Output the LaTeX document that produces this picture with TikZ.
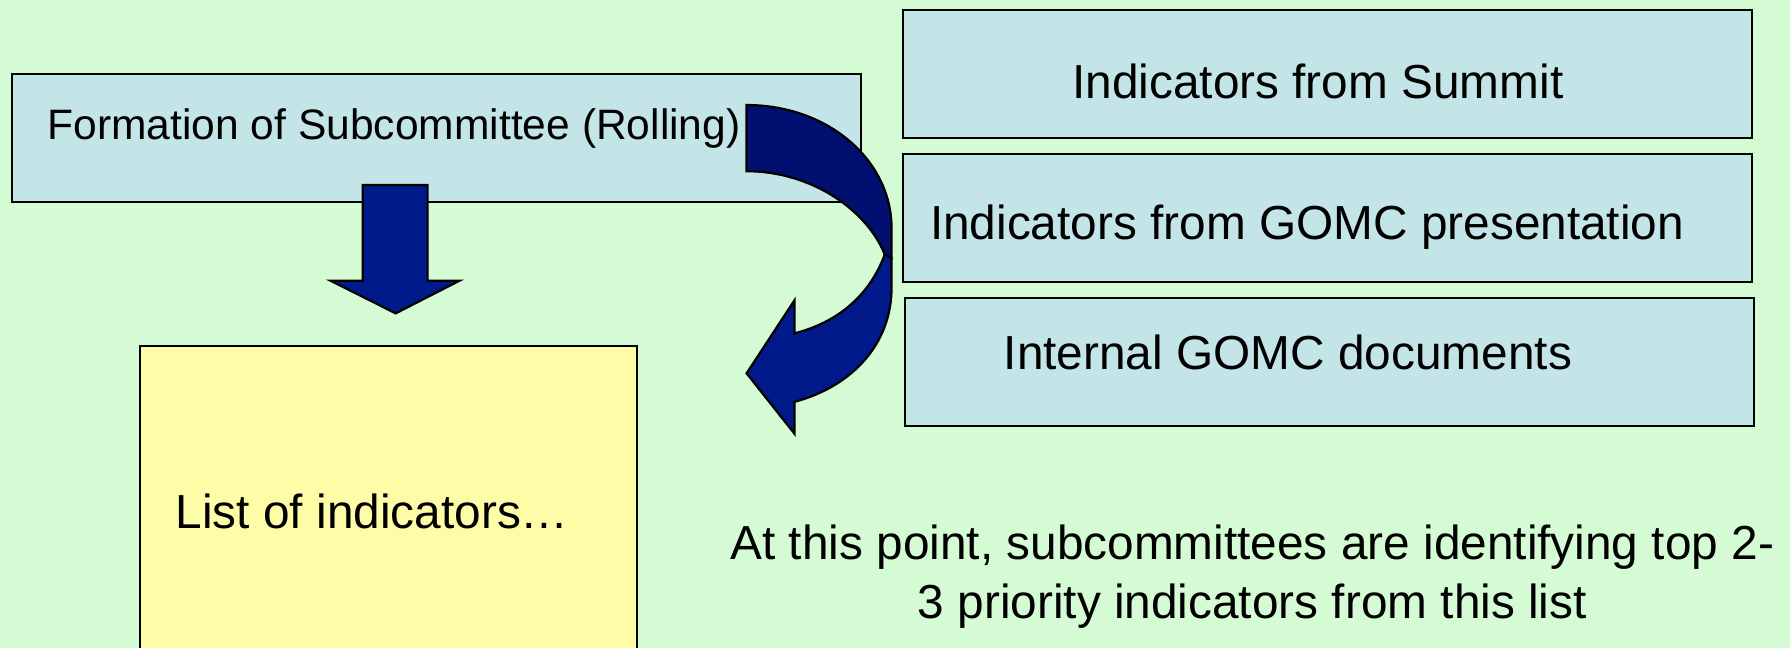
\documentclass[tikz,border=0pt]{standalone}
\usepackage{fontspec}
\setmainfont{Liberation Sans}
\definecolor{bg}{RGB}{212,251,212}
\definecolor{boxblue}{RGB}{196,229,231}
\definecolor{boxyel}{RGB}{255,252,168}
\definecolor{navyback}{RGB}{0,15,112}
\definecolor{navyfront}{RGB}{0,26,140}
\tikzset{
  box/.style={draw=black, line width=0.55pt, fill=boxblue, rectangle, inner sep=0pt, anchor=north west,
              minimum width=7.43cm, minimum height=1.12cm},
  yelbox/.style={draw=black, line width=0.55pt, fill=boxyel, rectangle, inner sep=0pt, anchor=north west,
              minimum width=4.355cm, minimum height=3.4cm},
  lbl/.style={inner sep=0pt, anchor=base west, font=\fontsize{11.9}{14.5}\selectfont},
  blockarrow/.style={draw=black, line width=0.55pt, line join=miter},
}
\begin{document}
\begin{tikzpicture}[x=0.01cm, y=-0.01cm]
  \fill[bg] (0,0) rectangle (1568,567.6);
  \useasboundingbox (0,0) rectangle (1568,567.6);
  \clip (0,0) rectangle (1568,567.6);

  % boxes
  \node[box] (form) at (9.5,64) {};
  \node[box] (summit) at (790,8) {};
  \node[box] (pres) at (790,134) {};
  \node[box] (internal) at (792,260) {};
  \node[yelbox] (list) at (121.5,302) {};

  % texts
  \node[lbl, font=\fontsize{10.6}{13}\selectfont] (tform) at (41,122) {Formation of Subcommittee (Rolling)};
  \node[lbl] (tsummit) at (938.6,86.7) {Indicators from Summit};
  \node[lbl] (tpres) at (814,209.6) {Indicators from GOMC presentation};
  \node[lbl] (tinternal) at (878.6,324) {Internal GOMC documents};
  \node[lbl] (tlist) at (153.3,462.8) {List of indicators…};
  \node[lbl, anchor=base] (note1) at (1097,490.5) {At this point, subcommittees are identifying top 2-};
  \node[lbl, anchor=base] (note2) at (1097,541.6) {3 priority indicators from this list};

  % straight block arrow from form to list
  \draw[blockarrow, fill=navyfront]
    (317.7,162) -- (374.6,162) -- (374.6,246) -- (402.3,246) -- (346.6,274.5)
    -- (289.7,246) -- (317.7,246) -- cycle;

  % curved block arrow: back part
  \draw[blockarrow, fill=navyback]
    (654,92) .. controls (725,92) and (781,140) .. (781,200) -- (781,226) -- (775,223)
    .. controls (760,185) and (712,150) .. (654,150) -- cycle;
  % curved block arrow: front part
  \draw[blockarrow, fill=navyfront]
    (775,223) .. controls (762,258) and (735,282) .. (696,292) -- (696,263) -- (654,327)
    -- (696,380) -- (696,352) .. controls (748,338) and (781,300) .. (781,252) -- (781,226) -- cycle;
\end{tikzpicture}
\end{document}
